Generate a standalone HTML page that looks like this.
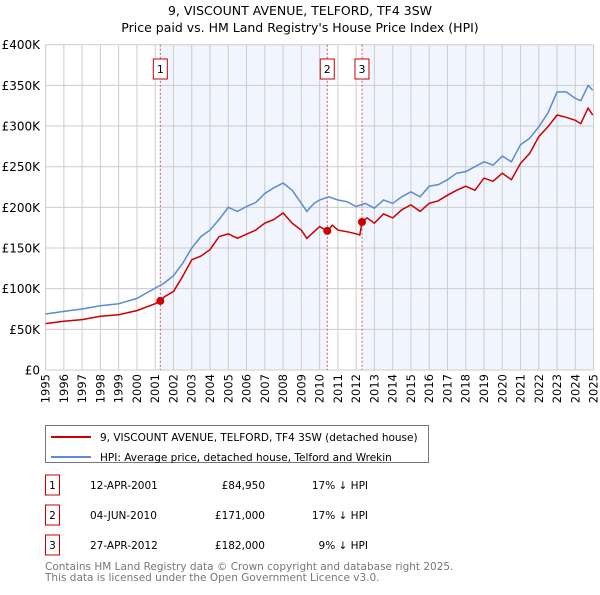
<!DOCTYPE html>
<html><head><meta charset="utf-8"><style>
body{margin:0;background:#fff;font-family:"Liberation Sans","DejaVu Sans",sans-serif;}
svg text{font-family:"DejaVu Sans","Liberation Sans",sans-serif;}
</style></head><body>
<svg id="c" width="600" height="590" xmlns="http://www.w3.org/2000/svg">
<text x="300" y="15" text-anchor="middle" font-size="12.5" fill="#000">9, VISCOUNT AVENUE, TELFORD, TF4 3SW</text>
<text x="300" y="32" text-anchor="middle" font-size="12.5" fill="#000">Price paid vs. HM Land Registry's House Price Index (HPI)</text>
<g id="plot"></g>
<g>
<rect x="45.5" y="425.5" width="383" height="37" fill="#fff" stroke="#777"/>
<line x1="51" y1="437" x2="91" y2="437" stroke="#cc0000" stroke-width="2"/>
<text x="100" y="441" font-size="10.5">9, VISCOUNT AVENUE, TELFORD, TF4 3SW (detached house)</text>
<line x1="51" y1="457" x2="91" y2="457" stroke="#5b8bd0" stroke-width="2"/>
<text x="100" y="461" font-size="10.5">HPI: Average price, detached house, Telford and Wrekin</text>
</g>
<g id="tbl" font-size="10.5"></g>
<text x="45" y="570" font-size="10.5" fill="#777">Contains HM Land Registry data © Crown copyright and database right 2025.</text>
<text x="45" y="581" font-size="10.5" fill="#777">This data is licensed under the Open Government Licence v3.0.</text>
</svg>
<script>
const hpiYears=[1995,1996,1997,1998,1999,2000,2001,2001.5,2002,2002.5,2003,2003.5,2004,2004.5,2005,2005.5,2006,2006.5,2007,2007.5,2008,2008.5,2009,2009.3,2009.7,2010,2010.5,2011,2011.5,2012,2012.5,2013,2013.5,2014,2014.5,2015,2015.5,2016,2016.5,2017,2017.5,2018,2018.5,2019,2019.5,2020,2020.5,2021,2021.5,2022,2022.5,2023,2023.5,2024,2024.3,2024.7,2024.95];
const hpiValues=[68.8,72,75,79,81.5,88,100.7,107,116,131,150,164,172,185,200,195,201,206,217,224,230,221,205,195,205,209,213,209,207,201,205,199,209,205,213,219,213,226,228,234,242,244,250,256,252,263,256,277,285,299,316,342,342,334,331,350,344];
const priceYears=[1995,1996,1997,1998,1999,2000,2001,2001.28,2001.5,2002,2002.5,2003,2003.5,2004,2004.5,2005,2005.5,2006,2006.5,2007,2007.5,2008,2008.5,2009,2009.3,2009.7,2010,2010.42,2010.7,2011,2011.5,2012,2012.2,2012.32,2012.6,2013,2013.5,2014,2014.5,2015,2015.5,2016,2016.5,2017,2017.5,2018,2018.5,2019,2019.5,2020,2020.5,2021,2021.5,2022,2022.5,2023,2023.5,2024,2024.3,2024.7,2024.95];
const priceValues=[57,60,62,66,68,73,81.5,84.95,90,96.6,115,135.5,140,148,164,167.5,162,167,172,180.5,185,193,180.5,172,162,170,176.5,171,178,172,170,167.5,166,182,187,180.5,192,187,197,203,195,205,208,215,221,226,221,236,232,242,234,254,266.5,287,299,313.6,310.7,307,303,322,313.6];
const saleYears=[2001.28,2010.42,2012.32];
const saleValues=[84.95,171,182];
const saleLabels=["1","2","3"];
const saleDates=["12-APR-2001","04-JUN-2010","27-APR-2012"];
const salePrices=["£84,950","£171,000","£182,000"];
const saleDiffs=["17% ↓ HPI","17% ↓ HPI","9% ↓ HPI"];
const yTicks=[0,50,100,150,200,250,300,350,400];
const yTickLabels=["£0","£50K","£100K","£150K","£200K","£250K","£300K","£350K","£400K"];
const xTicks=[1995,1996,1997,1998,1999,2000,2001,2002,2003,2004,2005,2006,2007,2008,2009,2010,2011,2012,2013,2014,2015,2016,2017,2018,2019,2020,2021,2022,2023,2024,2025];

const X0=45.6,X1=593.6,Y0=370,Y1=44.7;
const xs=y=>X0+(y-1995)/30*(X1-X0);
const ys=v=>Y0-v/400*(Y0-Y1);
const NS="http://www.w3.org/2000/svg";
const g=document.getElementById('plot');
function mk(t,a,p){const e=document.createElementNS(NS,t);for(const k in a)e.setAttribute(k,a[k]);(p||g).appendChild(e);return e;}

let r=mk('rect',{x:xs(saleYears[0]),y:Y1,width:xs(saleYears[1])-xs(saleYears[0]),height:Y0-Y1,fill:'#f1f5fd'});


r=mk('rect',{x:xs(saleYears[2]),y:Y1,width:X1-xs(saleYears[2]),height:Y0-Y1,fill:'#f1f5fd'});



xTicks.forEach(t=>{
  const l=mk('line',{x1:xs(t),x2:xs(t),y1:Y1,y2:Y0,stroke:'#ccc','stroke-width':1});
  
  
  const tx=mk('text',{x:0,y:0,'font-size':11.5,'text-anchor':'end',transform:`translate(${xs(t)+4},${Y0+4}) rotate(-90)`});
  tx.textContent=t;
  
  
});
yTicks.forEach((t,i)=>{
  const l=mk('line',{x1:X0,x2:X1,y1:ys(t),y2:ys(t),stroke:'#ccc','stroke-width':1});
  
  
  const tx=mk('text',{x:40,y:ys(t)+4.5,'font-size':12,'text-anchor':'end'});
  tx.textContent=yTickLabels[i];
  
  
});
saleYears.forEach((s,i)=>{
  const l=mk('line',{x1:xs(s),x2:xs(s),y1:Y1,y2:Y0,stroke:'#e05050','stroke-width':1,'stroke-dasharray':'2,2'});
  
  
  const b=mk('rect',{x:xs(s)-7,y:59,width:14,height:20,fill:'#fff',stroke:'#cc0000'});
  
  
  const t=mk('text',{x:xs(s),y:73,'font-size':11,'text-anchor':'middle'});
  t.textContent=saleLabels[i];
  
  
});
function path(xa,va){return xa.map((x,i)=>(i?'L':'M')+xs(x).toFixed(1)+','+ys(va[i]).toFixed(1)).join('');}
let p=mk('path',{d:path(hpiYears,hpiValues),fill:'none',stroke:'#5b8bd0','stroke-width':1.5});


p=mk('path',{d:path(priceYears,priceValues),fill:'none',stroke:'#cc0000','stroke-width':1.5});


saleYears.forEach((s,i)=>{
  const c=mk('circle',{cx:xs(s),cy:ys(saleValues[i]),r:4,fill:'#cc0000'});
  
  
});
const tb=document.getElementById('tbl');
saleLabels.forEach((s,i)=>{
  const y=483+i*30;
  const b=mk('rect',{x:45.5,y:y-8,width:14,height:20,fill:'#fff',stroke:'#cc0000'},tb);
  
  
  const cells=[[52.5,s,'middle'],[90,saleDates[i],'start'],[265,salePrices[i],'end'],[368,saleDiffs[i],'end']];
  cells.forEach(c=>{
    const t=mk('text',{x:c[0],y:y+6,'text-anchor':c[2]},tb);
    t.textContent=c[1];
    
    
  });
});
</script>
</body></html>
